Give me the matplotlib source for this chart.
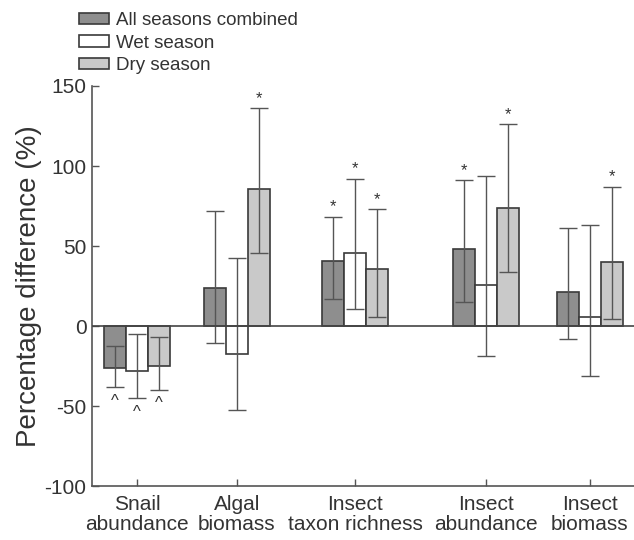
import numpy as np
import matplotlib
matplotlib.use("Agg")
import matplotlib.pyplot as plt
from matplotlib.patches import Patch

plt.rcParams['font.family'] = ['Liberation Sans', 'DejaVu Sans']
plt.rcParams['axes.unicode_minus'] = False

categories = ["Snail\nabundance", "Algal\nbiomass", "Insect\ntaxon richness",
              "Insect\nabundance", "Insect\nbiomass"]

all_mean = [-26, 24, 40.5, 48, 21.5]
all_lo = [-38, -10.5, 17, 15, -8]
all_hi = [-12.5, 72, 68.5, 91, 61.5]

wet_mean = [-28, -17.5, 46, 25.5, 5.5]
wet_lo = [-45, -52, 11, -18.5, -31]
wet_hi = [-5, 42.5, 92, 94, 63.5]

dry_mean = [-25, 86, 35.5, 74, 40]
dry_lo = [-39.5, 46, 5.5, 34, 4.5]
dry_hi = [-7, 136, 73, 126, 87]

all_mark = ["^", "", "*", "*", ""]
wet_mark = ["^", "", "*", "", ""]
dry_mark = ["^", "*", "*", "*", "*"]

series_names = ["All seasons combined", "Wet season", "Dry season"]

# layout (group centres are not evenly spaced in the original)
centers = np.array([45, 145, 263, 394, 498])
bw = 22
txt = '#333333'

fig = plt.figure(figsize=(6.34, 5.4), dpi=100)
ax = fig.add_axes([0.1451, 0.0991, 0.8549, 0.7417])

series = [
    (all_mean, all_lo, all_hi, all_mark, '#8e8e8e', -bw),
    (wet_mean, wet_lo, wet_hi, wet_mark, '#ffffff', 0),
    (dry_mean, dry_lo, dry_hi, dry_mark, '#c9c9c9', bw),
]

for mean, lo, hi, mark, col, off in series:
    x = centers + off
    mean = np.array(mean)
    ax.bar(x, mean, width=bw, color=col, edgecolor='#3a3a3a', linewidth=1.2, zorder=2)
    yerr = [mean - np.array(lo), np.array(hi) - mean]
    ax.errorbar(x, mean, yerr=yerr, fmt='none', ecolor='#555555', elinewidth=1,
                capsize=6.5, capthick=1, zorder=3)
    for xi, l, h, m in zip(x, lo, hi, mark):
        if m == "*":
            ax.text(xi, h + 1.5, "*", ha='center', va='bottom', fontsize=12, color=txt)
        elif m == "^":
            ax.text(xi, l - 4, "^", ha='center', va='top', fontsize=12, color=txt)

ax.axhline(0, color='#444444', lw=1.2, zorder=4)

ax.set_xlim(0, 542)
ax.set_ylim(-100, 150)
ax.set_yticks([-100, -50, 0, 50, 100, 150])
ax.set_xticks(centers)
ax.set_xticklabels(categories, fontsize=15, color=txt, linespacing=1.1)
ax.tick_params(axis='y', labelsize=15, labelcolor=txt)
ax.tick_params(direction='in', length=5, width=1, color='#555555', pad=4)
ax.tick_params(axis='x', pad=6)

for s in ['top', 'right']:
    ax.spines[s].set_visible(False)
for s in ['left', 'bottom']:
    ax.spines[s].set_color('#555555')
    ax.spines[s].set_linewidth(1.2)

ax.set_ylabel("Percentage difference (%)", fontsize=20, color=txt, labelpad=2)

handles = [Patch(facecolor=c, edgecolor='#3a3a3a', linewidth=1.2)
           for c in ['#8e8e8e', '#ffffff', '#c9c9c9']]
fig.legend(handles, series_names, loc='upper left', bbox_to_anchor=(0.124, 0.978),
           frameon=False, fontsize=13.5, handlelength=1.6, handleheight=0.55,
           handletextpad=0.4, labelspacing=0.3, borderpad=0, borderaxespad=0,
           labelcolor=txt)

fig.savefig("out.png", dpi=100)
